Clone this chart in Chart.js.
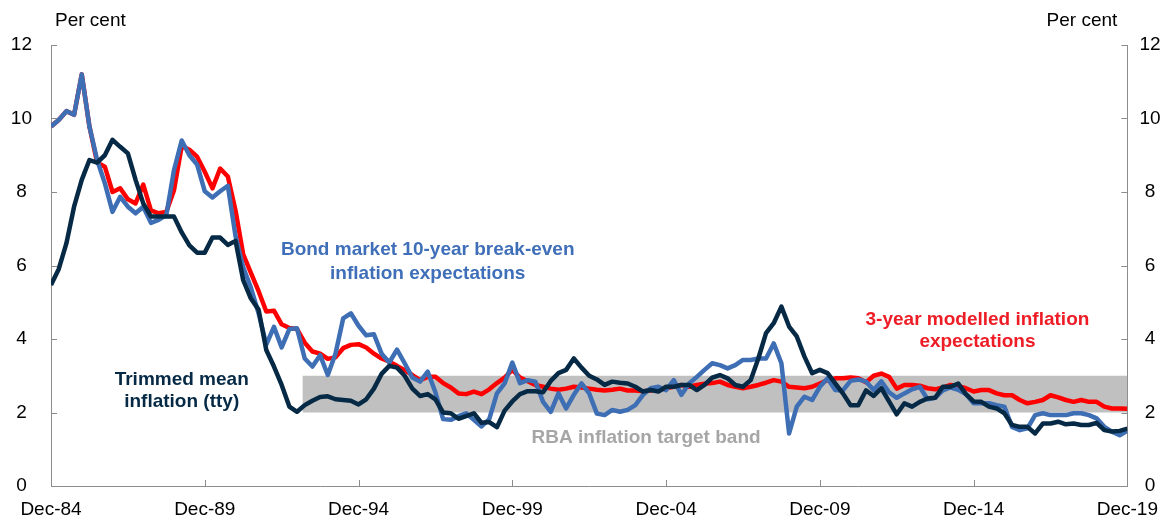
<!DOCTYPE html>
<html>
<head>
<meta charset="utf-8">
<script src="https://cdn.jsdelivr.net/npm/chart.js@4.4.1/dist/chart.umd.min.js"></script>
<style>
    html, body { margin: 0; padding: 0; background: #fff; }
</style>
</head>
<body>
<canvas id="chart" width="1170" height="520"></canvas>
<script>
// Quarterly, Dec-84 (index 0) to Dec-19 (index 140)
const xTickLabels = ['Dec-84', 'Dec-89', 'Dec-94', 'Dec-99', 'Dec-04', 'Dec-09', 'Dec-14', 'Dec-19'];
const yTicks = [0, 2, 4, 6, 8, 10, 12];

const trimmedMean = [
    5.47, 5.9, 6.6, 7.6, 8.33, 8.87, 8.8, 9.0, 9.42, 9.23,
    9.05, 8.33, 7.69, 7.33, 7.33, 7.33, 7.33, 6.9, 6.55, 6.35,
    6.35, 6.76, 6.76, 6.56, 6.67, 5.6, 5.1, 4.8, 3.7, 3.25,
    2.75, 2.16, 2.02, 2.2, 2.32, 2.42, 2.44, 2.36, 2.34, 2.32,
    2.22, 2.36, 2.65, 3.05, 3.27, 3.22, 3.0, 2.65, 2.45, 2.5,
    2.36, 2.0, 1.98, 1.83, 1.9, 1.98, 1.72, 1.74, 1.6, 2.05,
    2.3, 2.5, 2.58, 2.58, 2.55, 2.86, 3.07, 3.16, 3.47, 3.22,
    3.0, 2.9, 2.75, 2.84, 2.81, 2.79, 2.7, 2.57, 2.61, 2.57,
    2.7, 2.7, 2.75, 2.75, 2.61, 2.75, 2.95, 3.02, 2.93, 2.75,
    2.7, 2.88, 3.47, 4.16, 4.43, 4.88, 4.34, 4.07, 3.52, 3.07,
    3.16, 3.07, 2.79, 2.52, 2.2, 2.2, 2.6, 2.45, 2.66, 2.3,
    1.95, 2.25, 2.16, 2.29, 2.38, 2.4, 2.7, 2.7, 2.79, 2.5,
    2.3, 2.29, 2.16, 2.11, 1.98, 1.66, 1.61, 1.61, 1.43, 1.7,
    1.7, 1.75, 1.68, 1.7, 1.66, 1.66, 1.72, 1.52, 1.48, 1.5,
    1.56
];

const modelled3yr = [
    9.78, 9.96, 10.2, 10.1, 11.2, 9.78, 8.8, 8.69, 8.0, 8.1,
    7.8, 7.69, 8.2, 7.5, 7.42, 7.46, 8.05, 9.25, 9.15, 8.96,
    8.55, 8.1, 8.64, 8.42, 7.5, 6.3, 5.8, 5.3, 4.75, 4.77,
    4.4, 4.3, 4.27, 3.9, 3.66, 3.6, 3.46, 3.5, 3.75, 3.84,
    3.86, 3.77, 3.6, 3.47, 3.38, 3.27, 3.15, 3.02, 2.88, 2.97,
    2.97, 2.8, 2.68, 2.52, 2.5, 2.57, 2.5, 2.63, 2.8, 2.95,
    3.16, 2.95, 2.85, 2.75, 2.7, 2.65, 2.62, 2.65, 2.7, 2.68,
    2.65, 2.62, 2.6, 2.62, 2.65, 2.6, 2.6, 2.58, 2.6, 2.62,
    2.66, 2.7, 2.75, 2.7, 2.75, 2.78, 2.8, 2.84, 2.75, 2.7,
    2.66, 2.7, 2.75, 2.81, 2.88, 2.84, 2.7, 2.68, 2.66, 2.7,
    2.79, 2.88, 2.93, 2.93, 2.95, 2.93, 2.82, 3.0, 3.06, 2.97,
    2.65, 2.75, 2.75, 2.73, 2.66, 2.63, 2.68, 2.75, 2.72, 2.66,
    2.57, 2.61, 2.61, 2.52, 2.47, 2.47, 2.34, 2.25, 2.29, 2.34,
    2.47, 2.41, 2.34, 2.29, 2.34, 2.29, 2.29, 2.16, 2.11, 2.11,
    2.1
];

const breakEven10yr = [
    9.78, 9.96, 10.2, 10.1, 11.2, 9.78, 8.87, 8.24, 7.46, 7.87,
    7.6, 7.42, 7.6, 7.16, 7.24, 7.37, 8.6, 9.4, 9.0, 8.75,
    8.02, 7.85, 8.02, 8.17, 6.8, 5.95, 5.4, 4.7, 3.85, 4.33,
    3.77, 4.27, 4.29, 3.47, 3.25, 3.56, 3.02, 3.6, 4.56, 4.7,
    4.36, 4.1, 4.13, 3.6, 3.36, 3.71, 3.34, 2.95, 2.84, 3.11,
    2.55, 1.82, 1.8, 1.9, 1.98, 1.8, 1.62, 1.82, 2.52, 2.79,
    3.36, 2.8, 2.88, 2.84, 2.29, 2.02, 2.52, 2.11, 2.48, 2.79,
    2.52, 1.97, 1.93, 2.07, 2.02, 2.07, 2.2, 2.48, 2.66, 2.7,
    2.61, 2.88, 2.48, 2.79, 2.97, 3.16, 3.34, 3.29, 3.2, 3.29,
    3.43, 3.43, 3.47, 3.47, 3.88, 3.34, 1.43, 2.16, 2.43, 2.34,
    2.7, 2.93, 2.61, 2.6, 2.86, 2.9, 2.84, 2.61, 2.85, 2.55,
    2.4, 2.52, 2.63, 2.7, 2.36, 2.4, 2.6, 2.68, 2.62, 2.5,
    2.25, 2.25, 2.25, 2.2, 2.16, 1.61, 1.52, 1.57, 1.93, 1.98,
    1.93, 1.93, 1.93, 1.98, 1.98, 1.93, 1.84, 1.61, 1.48, 1.38,
    1.5
];

// RBA target band: 2-3 per cent from early 1993
const bandQuarters = [32.7, 140];
const bandLow = [2, 2];
const bandHigh = [3, 3];

const FONT = '"Liberation Sans", Arial, sans-serif';
const AXIS_COLOR = '#8c8c8c';
const NAVY = '#062a45';
const BLUE = '#3e6eb4';
const RED = '#ff0000';
const BAND = '#c0c0c0';
const LINE_W = 4.5;

const toPoints = (vals) => vals.map((v, i) => ({ x: i, y: v }));
const bandPoints = (vals) => vals.map((v, i) => ({ x: bandQuarters[i], y: v }));

// text labels placed in data units (quarter index, per cent)
const notes = [
    { lines: ['Bond market 10-year break-even', 'inflation expectations'], q: 49, v: 6.42, gap: 0.65, color: '#3f6fb8' },
    { lines: ['3-year modelled inflation', 'expectations'], q: 120.5, v: 4.52, gap: 0.6, color: '#ee1c25' },
    { lines: ['Trimmed mean', 'inflation (tty)'], q: 17, v: 2.88, gap: 0.6, color: NAVY },
    { lines: ['RBA inflation target band'], q: 77.4, v: 1.31, gap: 0, color: '#a6a6a6' }
];

const innerTicks = {
    id: 'innerTicks',
    afterDatasetsDraw(chart) {
        const ctx = chart.ctx;
        const a = chart.chartArea;
        const { x, y } = chart.scales;
        ctx.save();
        ctx.strokeStyle = AXIS_COLOR;
        ctx.lineWidth = 1;
        ctx.beginPath();
        y.ticks.forEach(t => {
            const py = Math.round(y.getPixelForValue(t.value)) + 0.5;
            ctx.moveTo(a.left, py); ctx.lineTo(a.left + 6, py);
            ctx.moveTo(a.right - 6, py); ctx.lineTo(a.right, py);
        });
        x.ticks.forEach(t => {
            const px = Math.round(x.getPixelForValue(t.value)) + 0.5;
            ctx.moveTo(px, a.bottom); ctx.lineTo(px, a.bottom - 6);
        });
        ctx.stroke();
        ctx.restore();
    }
};

const textNotes = {
    id: 'textNotes',
    afterDraw(chart) {
        const ctx = chart.ctx;
        const a = chart.chartArea;
        const { x, y } = chart.scales;
        ctx.save();
        ctx.textBaseline = 'middle';
        ctx.font = `19px ${FONT}`;
        ctx.fillStyle = '#000';
        ctx.textAlign = 'left';
        ctx.fillText('Per cent', a.left + 4, 21);
        ctx.textAlign = 'right';
        ctx.fillText('Per cent', a.right - 10, 21);

        ctx.font = `bold 19px ${FONT}`;
        ctx.textAlign = 'center';
        notes.forEach(n => {
            ctx.fillStyle = n.color;
            n.lines.forEach((line, i) => {
                ctx.fillText(line, x.getPixelForValue(n.q), y.getPixelForValue(n.v - i * n.gap));
            });
        });
        ctx.restore();
    }
};

const yScale = (position, pad) => ({
    position,
    min: 0,
    max: 12,
    afterBuildTicks: (scale) => { scale.ticks = yTicks.map(v => ({ value: v })); },
    afterFit: (scale) => { scale.width = position === 'left' ? 51 : 42; },
    grid: { display: true, drawOnChartArea: false, drawTicks: false },
    border: { display: true, color: AXIS_COLOR, width: 1 },
    ticks: {
        padding: pad,
        crossAlign: 'center',
        color: '#000',
        font: { family: FONT, size: 19 }
    }
});

new Chart(document.getElementById('chart'), {
    type: 'line',
    data: {
        datasets: [
            {
                label: 'Trimmed mean inflation (tty)',
                data: toPoints(trimmedMean),
                borderColor: NAVY,
                borderWidth: LINE_W,
                order: 1
            },
            {
                label: 'Bond market 10-year break-even inflation expectations',
                data: toPoints(breakEven10yr),
                borderColor: BLUE,
                borderWidth: LINE_W,
                order: 2
            },
            {
                label: '3-year modelled inflation expectations',
                data: toPoints(modelled3yr),
                borderColor: RED,
                borderWidth: LINE_W,
                order: 3
            },
            {
                label: 'band high',
                data: bandPoints(bandHigh),
                borderWidth: 0,
                borderColor: 'rgba(0,0,0,0)',
                backgroundColor: BAND,
                fill: 4,
                order: 4
            },
            {
                label: 'band low',
                data: bandPoints(bandLow),
                borderWidth: 0,
                borderColor: 'rgba(0,0,0,0)',
                fill: false,
                order: 5
            }
        ]
    },
    options: {
        responsive: false,
        animation: false,
        events: [],
        layout: { padding: { top: 45, left: 0, right: 0, bottom: 0 } },
        elements: {
            point: { radius: 0 },
            line: { tension: 0, borderJoinStyle: 'round', borderCapStyle: 'butt' }
        },
        plugins: {
            legend: { display: false },
            tooltip: { enabled: false }
        },
        scales: {
            x: {
                type: 'linear',
                min: 0,
                max: 140,
                afterBuildTicks: (scale) => { scale.ticks = xTickLabels.map((_, i) => ({ value: i * 20 })); },
                afterFit: (scale) => { scale.height = 34; },
                grid: { display: true, drawOnChartArea: false, drawTicks: false },
                border: { display: true, color: AXIS_COLOR, width: 1 },
                ticks: {
                    padding: 12,
                    maxRotation: 0,
                    autoSkip: false,
                    color: '#000',
                    font: { family: FONT, size: 19 },
                    callback: (v) => xTickLabels[Math.round(v / 20)]
                }
            },
            y: yScale('left', 19),
            y2: yScale('right', 12)
        }
    },
    plugins: [innerTicks, textNotes]
});
</script>
</body>
</html>
